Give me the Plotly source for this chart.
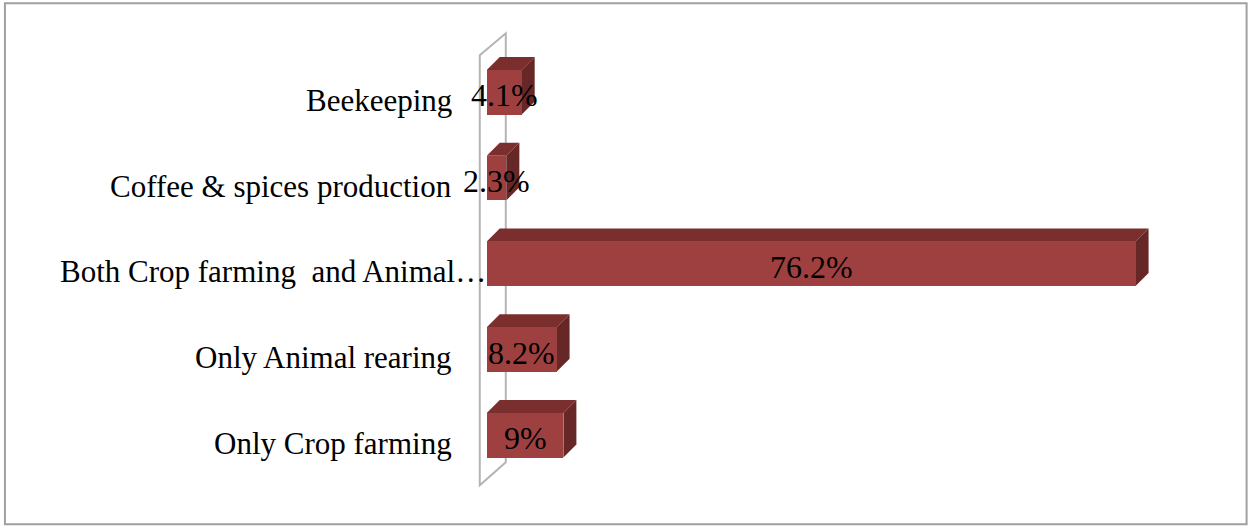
import plotly.graph_objects as go

# ---- data ----
categories = ["Only Crop farming", "Only Animal rearing",
              "Both Crop farming  and Animal…", "Coffee & spices production",
              "Beekeeping"]
values = [9.0, 8.2, 76.2, 2.3, 4.1]
value_labels = ["9%", "8.2%", "76.2%", "2.3%", "4.1%"]

# ---- styling / geometry ----
W, H = 1252, 526
X_RANGE = [-1.5, 84]
Y_RANGE = [-0.65, 4.75]
M_L, M_R, M_T, M_B = 474.2, 49.6, 27.7, 35.3
BAR_W = 0.52
FRONT = "#9E4040"
TOP = "#7A2E2E"
SIDE = "#682727"
FONT = "Liberation Serif"

plot_w = W - M_L - M_R
plot_h = H - M_T - M_B
sx = plot_w / (X_RANGE[1] - X_RANGE[0])   # px per x unit
sy = plot_h / (Y_RANGE[1] - Y_RANGE[0])   # px per y unit
DX = 13 / sx   # 3D depth in data units
DY = 13 / sy


def px2paper_x(px):
    return (px - M_L) / plot_w


def px2paper_y(py):
    return (H - M_B - py) / plot_h


ypos = list(range(len(categories)))

fig = go.Figure()
fig.add_trace(go.Bar(
    x=values, y=ypos, orientation="h", width=BAR_W,
    marker=dict(color=FRONT, line=dict(width=0)),
    hoverinfo="skip", showlegend=False,
))

shapes = []
# back wall (thin panel on the left)
wl, wr = -7 / sx, 19 / sx
wall_pts = [(wl, Y_RANGE[0] + 0.067), (wl, 4 + 37 / sy), (wr, 4 + 59 / sy), (wr, -27 / sy)]
path = "M " + " L ".join(f"{x},{y}" for x, y in wall_pts) + " Z"
shapes.append(dict(type="path", path=path, xref="x", yref="y",
                   line=dict(color="#B4B4B4", width=2), fillcolor="rgba(0,0,0,0)",
                   layer="below"))
# 3D faces of bars
for y, v in zip(ypos, values):
    top = y + BAR_W / 2
    bot = y - BAR_W / 2
    tp = [(0, top), (v, top), (v + DX, top + DY), (DX, top + DY)]
    sp = [(v, bot), (v + DX, bot + DY), (v + DX, top + DY), (v, top)]
    for pts, col in ((tp, TOP), (sp, SIDE)):
        shapes.append(dict(type="path",
                           path="M " + " L ".join(f"{a},{b}" for a, b in pts) + " Z",
                           xref="x", yref="y", fillcolor=col,
                           line=dict(width=0), layer="below"))

# outer chart frame
shapes.append(dict(type="rect", xref="paper", yref="paper",
                   x0=px2paper_x(5), x1=px2paper_x(1247),
                   y0=px2paper_y(524), y1=px2paper_y(3),
                   line=dict(color="#A0A0A0", width=2), fillcolor="rgba(0,0,0,0)"))

annotations = []
for y, c in zip(ypos, categories):
    if c.endswith("…"):
        annotations.append(dict(x=px2paper_x(58), y=y, xref="paper", yref="y", text=c,
                                showarrow=False, xanchor="left", yanchor="middle",
                                yshift=-8,
                                font=dict(family=FONT, size=31, color="#000000")))
    else:
        annotations.append(dict(x=0, y=y, xref="x", yref="y", text=c,
                                showarrow=False, xanchor="right", yanchor="middle",
                                xshift=-33, yshift=-8,
                                font=dict(family=FONT, size=31, color="#000000")))
for y, v, t in zip(ypos, values, value_labels):
    annotations.append(dict(x=v / 2, y=y, xref="x", yref="y", text=t,
                            showarrow=False, xanchor="center", yanchor="middle",
                            yshift=-3,
                            font=dict(family=FONT, size=32, color="#000000")))

fig.update_layout(
    width=W, height=H,
    margin=dict(l=M_L, r=M_R, t=M_T, b=M_B, pad=0),
    paper_bgcolor="white", plot_bgcolor="white",
    xaxis=dict(range=X_RANGE, visible=False, fixedrange=True),
    yaxis=dict(range=Y_RANGE, visible=False, fixedrange=True),
    shapes=shapes, annotations=annotations,
    bargap=0, showlegend=False,
)

fig.write_html("out.html", config={"displayModeBar": False})
